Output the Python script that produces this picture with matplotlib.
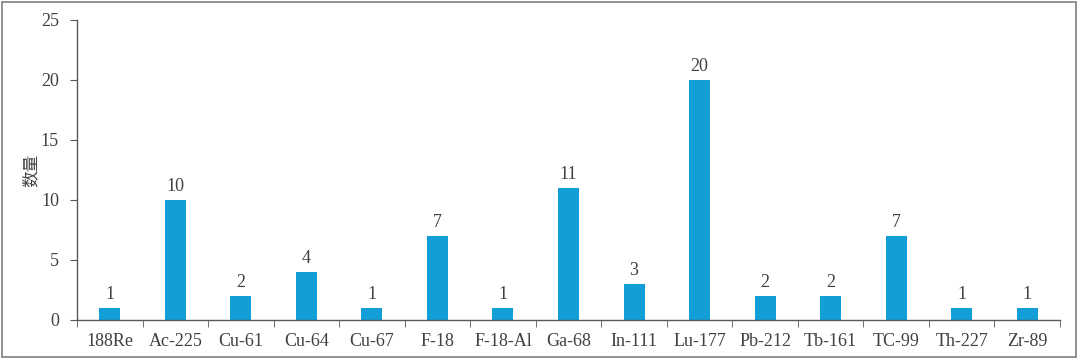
import matplotlib
matplotlib.use("Agg")
import numpy as np
from matplotlib import pyplot as plt
from matplotlib.patches import Rectangle

plt.rcParams['font.family'] = ['Liberation Serif', 'Noto Sans CJK SC']

categories = ['188Re', 'Ac-225', 'Cu-61', 'Cu-64', 'Cu-67', 'F-18', 'F-18-Al',
              'Ga-68', 'In-111', 'Lu-177', 'Pb-212', 'Tb-161', 'TC-99',
              'Th-227', 'Zr-89']
counts = [1, 10, 2, 4, 1, 7, 1, 11, 3, 20, 2, 2, 7, 1, 1]

bar_color = '#129fd8'
text_color = '#404040'
axis_color = '#595959'

fig = plt.figure(figsize=(10.8, 3.61), dpi=100)
ax = fig.add_axes([77 / 1080, 41 / 361, 983 / 1080, 300 / 361])

x = np.arange(len(categories))
ax.bar(x, counts, width=0.32, color=bar_color)
for xi, v in zip(x, counts):
    ax.text(xi, v + 0.45, str(v), ha='center', va='bottom',
            fontsize=13, color=text_color)

ax.set_xlim(-0.5, len(categories) - 0.5)
ax.set_ylim(0, 25)
ax.set_yticks(np.arange(0, 26, 5))
ax.set_xticks(x)
ax.set_xticklabels(categories)
ax.set_xticks(np.arange(-0.5, len(categories)), minor=True)
ax.tick_params(axis='x', which='major', length=0, pad=9,
               labelsize=13, labelcolor=text_color)
ax.tick_params(axis='x', which='minor', length=5, color=axis_color, direction='out')
ax.tick_params(axis='y', length=5, color=axis_color, labelsize=13,
               labelcolor=text_color, pad=8)

for s in ['top', 'right']:
    ax.spines[s].set_visible(False)
for s in ['left', 'bottom']:
    ax.spines[s].set_color(axis_color)
    ax.spines[s].set_linewidth(1)

ax.set_ylabel('数量', fontsize=12, color=text_color, labelpad=1)

# outer frame around the whole chart
fig.patches.append(Rectangle((2 / 1080, 4 / 361), 1074 / 1080, 355 / 361,
                             transform=fig.transFigure, fill=False,
                             edgecolor='#7f7f7f', linewidth=1.2))

fig.savefig('out.png', dpi=100)
